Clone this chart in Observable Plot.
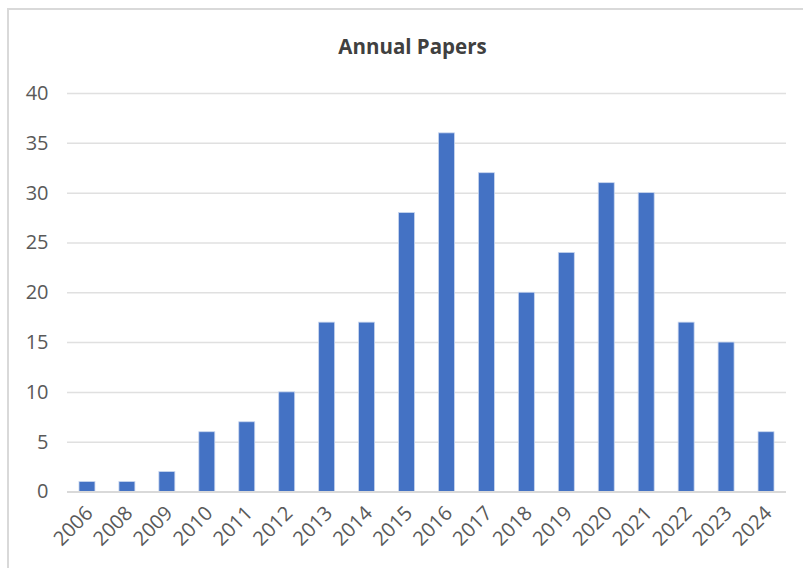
<!DOCTYPE html>
<html>
<head>
<meta charset="utf-8">
<script src="https://cdn.jsdelivr.net/npm/d3@7"></script>
<script src="https://cdn.jsdelivr.net/npm/@observablehq/plot@0.6"></script>
<style>
  html, body { margin: 0; padding: 0; background: #fff; }
  body { width: 803px; height: 568px; overflow: hidden; position: relative; font-family: "Open Sans", sans-serif; }
  #frame { position: absolute; left: 7px; top: 8px; width: 900px; height: 700px; border-left: 2px solid #d9d9d9; border-top: 2px solid #d9d9d9; }
  #title { position: absolute; left: 0; top: 0; width: 803px; height: 70px; font-weight: bold; font-size: 20.5px; color: #404040; line-height: 24px; }
  #title span { position: absolute; left: 0; right: 0; top: 34px; text-align: center; padding-left: 22px; }
  #chart { position: absolute; left: 0; top: 70px; }
  #chart svg text { font-size: 20px; font-family: "Open Sans", sans-serif; }
</style>
</head>
<body>
<div id="frame"></div>
<div id="title"><span>Annual Papers</span></div>
<div id="chart"></div>
<script>
const years = ["2006","2008","2009","2010","2011","2012","2013","2014","2015","2016","2017","2018","2019","2020","2021","2022","2023","2024"];
const papers = [1,1,2,6,7,10,17,17,28,36,32,20,24,31,30,17,15,6];
const yTicks = [0,5,10,15,20,25,30,35,40];

const data = years.map((y, i) => ({year: y, value: papers[i]}));

const plot = Plot.plot({
  width: 803,
  height: 498,
  marginLeft: 67,
  marginRight: 17,
  marginTop: 23,
  marginBottom: 76.5,
  style: {fontFamily: "Open Sans, sans-serif", fontSize: "20px", color: "#595959", background: "transparent"},
  x: {domain: years, paddingInner: 0.6, paddingOuter: 0.3, round: false, label: null},
  y: {domain: [0, 40], ticks: yTicks, label: null},
  marks: [
    Plot.gridY(yTicks.filter(d => d > 0), {stroke: "#e0e0e0", strokeOpacity: 1, strokeWidth: 1.5}),
    Plot.barY(data, {x: "year", y: "value", fill: "#4472c4", stroke: "#c9d6ee", strokeWidth: 0.8}),
    Plot.ruleY([0], {stroke: "#d9d9d9", strokeWidth: 2}),
    Plot.axisY({ticks: yTicks, tickSize: 0, tickPadding: 19, fill: "#595959", fontSize: 20, label: null}),
    Plot.axisX({tickSize: 0, tickRotate: -45, tickPadding: 8, dy: 10, dx: 2, fill: "#595959", fontSize: 20, label: null})
  ]
});
document.getElementById("chart").appendChild(plot);
</script>
</body>
</html>
